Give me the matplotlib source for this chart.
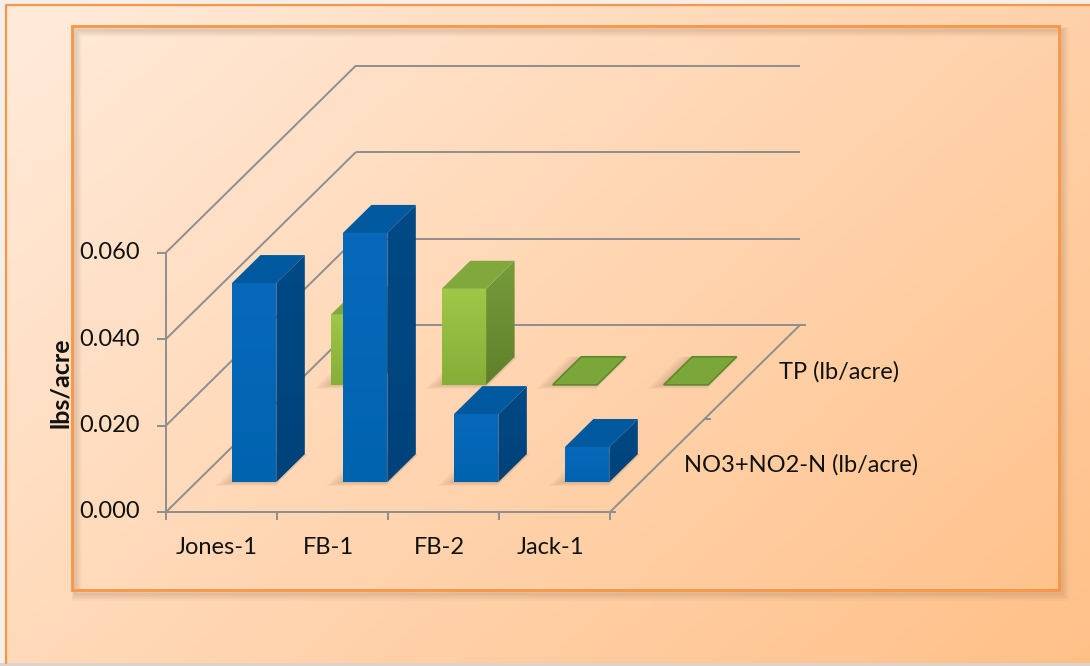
import matplotlib
matplotlib.use("Agg")
import matplotlib.pyplot as plt
import numpy as np
from matplotlib.patches import Polygon, Rectangle
from matplotlib.colors import LinearSegmentedColormap, to_rgb

plt.rcParams['font.family'] = ['Lato', 'DejaVu Sans']

# data
sites = ['Jones-1', 'FB-1', 'FB-2', 'Jack-1']
series = ['NO3+NO2-N (lb/acre)', 'TP (lb/acre)']
no3_no2 = [0.0460, 0.0576, 0.0157, 0.0081]
tp = [0.0162, 0.0222, 0.0, 0.0]
yticks = [0.000, 0.020, 0.040, 0.060]
ylabel = 'lbs/acre'

W, H = 1090, 666
fig = plt.figure(figsize=(W / 100, H / 100), dpi=100)
fig.patch.set_facecolor('#f4efeb')

# ---- background panel, frames and shadow (pixel space) ----
bg = fig.add_axes([0, 0, 1, 1])
bg.set_xlim(0, W)
bg.set_ylim(H, 0)
bg.axis('off')

gx = np.linspace(0, 1, 300)
gy = np.linspace(0, 1, 200)
GX, GY = np.meshgrid(gx, gy)
t = np.clip(0.6 * GX + 0.4 * GY, 0, 1)[..., None]
c0 = np.array(to_rgb('#ffebdb'))
c1 = np.array(to_rgb('#ffc088'))
bg.imshow(c0 * (1 - t) + c1 * t, extent=(6, W, 663, 5), aspect='auto',
          interpolation='bilinear', zorder=0)
bg.add_patch(Rectangle((0, 663), W, 3, facecolor='#ddd3cb', edgecolor='none', zorder=1))
bg.plot([6, 6, W], [663, 5, 5], color='#f79646', lw=1.6, zorder=2)

# soft shadow of the plot area
for k in range(6):
    bg.add_patch(Rectangle((72 + 2 + k * 0.6, 26 + 3 + k * 0.6), 987, 564,
                           facecolor='none', edgecolor='#9a7a60',
                           lw=1 + k * 1.2, alpha=0.05, zorder=2))
bg.add_patch(Rectangle((72, 26), 987, 564, facecolor='none',
                       edgecolor='#f79646', lw=2.0, zorder=3))

# ---- chart axes: x in category units, y in value units ----
X0_PX, CAT_PX = 166, 111        # left of floor, width of one category
Y0_PX, VAL_PX = 512, 4325       # floor line (from top), pixels per unit value
ax = fig.add_axes([0, 0, 1, 1])
ax.patch.set_alpha(0)
ax.axis('off')
xlim = (-X0_PX / CAT_PX, (W - X0_PX) / CAT_PX)
ylim = (-(H - Y0_PX) / VAL_PX, Y0_PX / VAL_PX)

DX = 190 / CAT_PX                # depth direction in data units
DY = 187 / VAL_PX
ncat = len(sites)
vmax = yticks[-1]


def P(c, v, d):
    return (c + d * DX, v + d * DY)


GRID = '#8e8e8e'


def seg(a, b, **kw):
    ax.plot([a[0], b[0]], [a[1], b[1]], color=GRID, lw=1.4,
            solid_capstyle='butt', zorder=kw.get('zorder', 1))


# walls and floor
for v in yticks:
    seg(P(0, v, 0), P(0, v, 1))
    seg(P(0, v, 1), P(ncat, v, 1))
    seg(P(0, v, 0), (P(0, v, 0)[0] - 9 / CAT_PX, v))
seg(P(0, 0, 0), P(0, vmax, 0))
seg(P(0, 0, 0), P(ncat, 0, 0))
seg(P(ncat, 0, 0), P(ncat, 0, 1))
for c in range(ncat + 1):
    seg(P(c, 0, 0), (c, -8 / VAL_PX))
for d in (0, 0.5, 1):
    p = P(ncat, 0, d)
    seg(p, (p[0] + 6 / CAT_PX, p[1]))


def grad_poly(verts, c_top, c_bot, z):
    poly = Polygon(verts, closed=True, facecolor='none', edgecolor='none', zorder=z)
    ax.add_patch(poly)
    xs = [p[0] for p in verts]
    ys = [p[1] for p in verts]
    cmap = LinearSegmentedColormap.from_list('g', [c_bot, c_top])
    im = ax.imshow(np.linspace(0, 1, 64)[:, None], cmap=cmap, origin='lower',
                   extent=(min(xs), max(xs), min(ys), max(ys)), aspect='auto',
                   interpolation='bilinear', zorder=z)
    im.set_clip_path(poly)


def bar3d(c, val, d0, depth, cols, z):
    x0, x1 = c + 0.32, c + 0.72
    d1 = d0 + depth
    # floor shadow
    for k in range(4):
        e = 0.015 + k * 0.018
        sh = [P(x0 - e * 1.6, 0, d0 - e * 0.3), P(x1 + e * 0.4, 0, d0 - e * 0.3),
              P(x1 + e * 0.4, 0, d1), P(x0 - e * 1.6, 0, d1)]
        ax.add_patch(Polygon(sh, closed=True, facecolor='#5a3a20', edgecolor='none',
                             alpha=0.05, zorder=z - 0.5))
    if val <= 0:
        top = [P(x0, 0, d0), P(x1, 0, d0), P(x1, 0, d1), P(x0, 0, d1)]
        ax.add_patch(Polygon(top, closed=True, facecolor=cols['flat'],
                             edgecolor=cols['flat_edge'], lw=1.2, zorder=z))
        return
    front = [P(x0, 0, d0), P(x1, 0, d0), P(x1, val, d0), P(x0, val, d0)]
    side = [P(x1, 0, d0), P(x1, 0, d1), P(x1, val, d1), P(x1, val, d0)]
    top = [P(x0, val, d0), P(x1, val, d0), P(x1, val, d1), P(x0, val, d1)]
    grad_poly(front, cols['front_top'], cols['front_bot'], z)
    grad_poly(side, cols['side_top'], cols['side_bot'], z)
    ax.add_patch(Polygon(top, closed=True, facecolor=cols['top'],
                         edgecolor='none', zorder=z))


blue = dict(front_top='#0869bb', front_bot='#0063b0', side_top='#004a86',
            side_bot='#00427a', top='#00589f', flat='#00589f', flat_edge='#00427a')
green = dict(front_top='#9fc748', front_bot='#86ae38', side_top='#769c3b',
             side_bot='#5f802b', top='#80a83c', flat='#7ba63a', flat_edge='#5e8a2a')

row_depth = [0.16, 0.68]
bar_depth = 0.15
for c in range(ncat):
    bar3d(c, tp[c], row_depth[1], bar_depth, green, 3)
for c in range(ncat):
    bar3d(c, no3_no2[c], row_depth[0], bar_depth, blue, 5)

# labels
for v in yticks:
    ax.text(-26 / CAT_PX, v, f'{v:.3f}', ha='right', va='center', fontsize=17,
            color='#111111')
for c, name in enumerate(sites):
    ax.text(c + 0.46, -36 / VAL_PX, name, ha='center', va='center', fontsize=17,
            color='#111111')
for name, d in zip(series, [0.25, 0.75]):
    p = P(ncat, 0, d)
    ax.text(p[0] + 26 / CAT_PX, p[1], name, ha='left', va='center', fontsize=17,
            color='#111111')
ax.text(-106 / CAT_PX, vmax / 2, ylabel, rotation=90, ha='center', va='center',
        fontsize=18, fontweight='bold', color='#111111')

ax.set_xlim(*xlim)
ax.set_ylim(*ylim)

fig.savefig('out.png', dpi=100)
